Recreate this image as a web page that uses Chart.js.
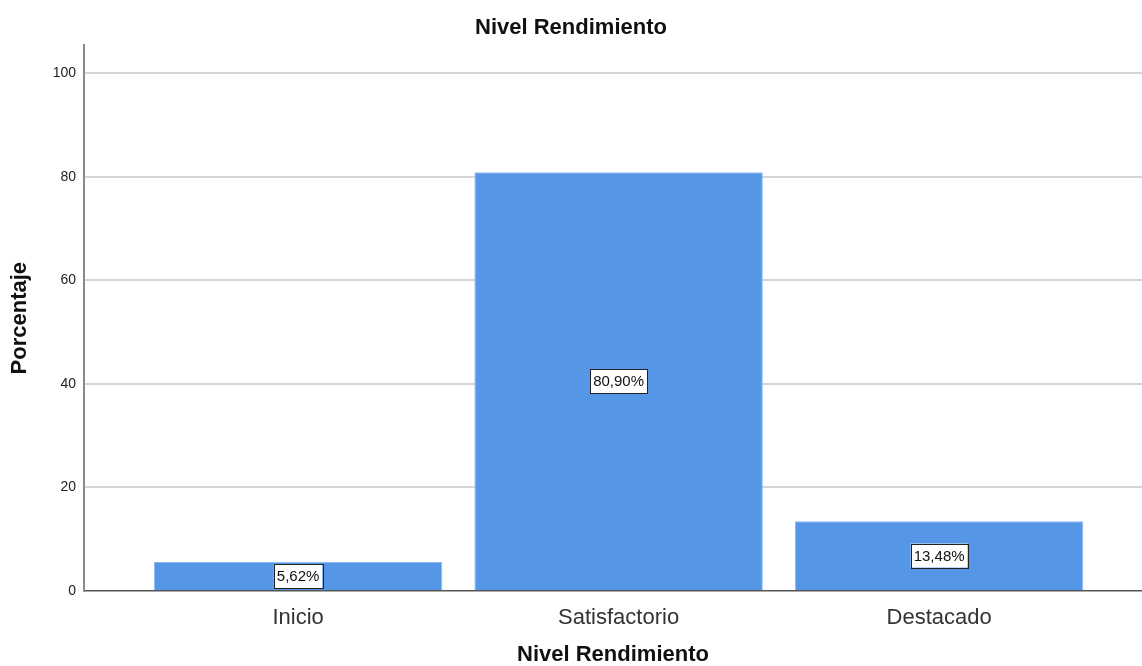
<!DOCTYPE html>
<html lang="es">
<head>
    <meta charset="UTF-8">
    <title>Nivel Rendimiento</title>
    <script src="https://cdn.jsdelivr.net/npm/chart.js"></script>
    <style>
        html, body {
            margin: 0;
            padding: 0;
            background: #ffffff;
        }
        #wrap {
            width: 1142px;
            height: 666px;
        }
    </style>
</head>
<body>
    <div id="wrap"><canvas id="chart" width="1142" height="666"></canvas></div>

    <script>
        // Datos
        const categories = ['Inicio', 'Satisfactorio', 'Destacado'];
        const percentages = [5.62, 80.90, 13.48];
        const yTicks = [0, 20, 40, 60, 80, 100];

        const barColor = 'rgb(85, 150, 230)';
        const fontFamily = '"Liberation Sans", Arial, sans-serif';

        // etiqueta con recuadro blanco en el centro de cada barra
        const boxLabels = {
            id: 'boxLabels',
            afterDatasetsDraw(chart) {
                const ctx = chart.ctx;
                const meta = chart.getDatasetMeta(0);
                ctx.save();
                ctx.font = '15px ' + fontFamily;
                ctx.textAlign = 'center';
                ctx.textBaseline = 'middle';
                meta.data.forEach((bar, i) => {
                    const text = percentages[i].toFixed(2).replace('.', ',') + '%';
                    const cy = (bar.y + bar.base) / 2;
                    const w = ctx.measureText(text).width + 6;
                    const h = 24;
                    ctx.fillStyle = '#ffffff';
                    ctx.fillRect(bar.x - w / 2, cy - h / 2, w, h);
                    ctx.strokeStyle = '#222222';
                    ctx.lineWidth = 1;
                    ctx.strokeRect(Math.round(bar.x - w / 2) + 0.5, Math.round(cy - h / 2) + 0.5, Math.round(w), h);
                    ctx.fillStyle = '#111111';
                    ctx.fillText(text, bar.x, cy + 1);
                });
                ctx.restore();
            }
        };

        const ctx = document.getElementById('chart').getContext('2d');
        new Chart(ctx, {
            type: 'bar',
            data: {
                datasets: [{
                    label: 'Porcentaje',
                    data: percentages.map((v, i) => ({ x: i, y: v })),
                    backgroundColor: barColor,
                    borderColor: 'rgb(140, 185, 240)',
                    borderWidth: 1,
                    barPercentage: 0.9,
                    categoryPercentage: 1.0
                }]
            },
            options: {
                responsive: false,
                animation: false,
                layout: { padding: { left: 0, right: 0, top: 0, bottom: 0 } },
                plugins: {
                    legend: { display: false },
                    tooltip: { enabled: false },
                    title: {
                        display: true,
                        text: 'Nivel Rendimiento',
                        color: '#111111',
                        font: { family: fontFamily, size: 22, weight: 'bold', lineHeight: 1.2 },
                        padding: { top: 15, bottom: 4 }
                    }
                },
                scales: {
                    x: {
                        type: 'linear',
                        offset: false,
                        min: -0.668,
                        max: 2.633,
                        afterBuildTicks(scale) {
                            scale.ticks = categories.map((c, i) => ({ value: i }));
                        },
                        afterFit(scale) { scale.height = 75; },
                        grid: { display: false, offset: false },
                        border: { display: true, color: '#555555', width: 1.5 },
                        ticks: {
                            maxRotation: 0,
                            autoSkip: false,
                            padding: 6,
                            color: '#333333',
                            font: { family: fontFamily, size: 22 },
                            callback: (value) => categories[value] ?? ''
                        },
                        title: {
                            display: true,
                            text: 'Nivel Rendimiento',
                            color: '#111111',
                            font: { family: fontFamily, size: 22, weight: 'bold', lineHeight: 1 },
                            padding: { top: 0, bottom: 0 }
                        }
                    },
                    y: {
                        min: 0,
                        max: 105.4,
                        afterBuildTicks(scale) {
                            scale.ticks = yTicks.map(v => ({ value: v }));
                        },
                        afterFit(scale) { scale.width = 84; },
                        grid: {
                            drawTicks: false,
                            lineWidth: 2,
                            color: (c) => (c.tick && c.tick.value === 0) ? 'rgba(0,0,0,0)' : '#d6d6d6'
                        },
                        border: { display: true, color: '#8a8a8a', width: 2 },
                        ticks: {
                            padding: 8,
                            color: '#222222',
                            font: { family: fontFamily, size: 14 }
                        },
                        title: {
                            display: true,
                            text: 'Porcentaje',
                            color: '#111111',
                            font: { family: fontFamily, size: 22, weight: 'bold', lineHeight: 1.2 },
                            padding: { top: 7, bottom: 0 }
                        }
                    }
                }
            },
            plugins: [boxLabels]
        });
    </script>
</body>
</html>
